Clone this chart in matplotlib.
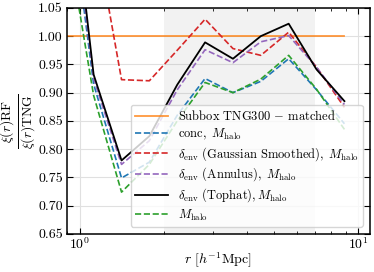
import numpy as np
import matplotlib
matplotlib.use("Agg")
import matplotlib.pyplot as plt

plt.rcParams.update({"font.family": "serif",
                     "font.serif": ["cmr10"],
                     "mathtext.fontset": "cm",
                     "axes.unicode_minus": False,
                     "axes.formatter.use_mathtext": True,
                     "font.size": 9})

# radial bins (log-spaced)
r_bins = [0.891, 1.122, 1.413, 1.778, 2.239, 2.818, 3.548, 4.467, 5.623, 7.079, 8.913]

ratio_matched = [1.0] * len(r_bins)
ratio_conc    = [1.30, 0.915, 0.749, 0.777, 0.860, 0.925, 0.900, 0.920, 0.960, 0.905, 0.845]
ratio_gauss   = [1.50, 1.200, 0.923, 0.921, 0.975, 1.030, 0.978, 0.966, 1.007, 0.945, 0.874]
ratio_annulus = [1.33, 0.925, 0.773, 0.815, 0.905, 0.976, 0.953, 0.990, 1.001, 0.945, 0.879]
ratio_tophat  = [1.36, 0.932, 0.780, 0.823, 0.914, 0.989, 0.960, 1.000, 1.022, 0.941, 0.885]
ratio_mhalo   = [1.19, 0.895, 0.724, 0.773, 0.850, 0.918, 0.900, 0.924, 0.966, 0.906, 0.835]

fig = plt.figure(figsize=(3.74, 2.72), dpi=100)
ax = fig.add_axes([0.179, 0.140, 0.810, 0.831])

ax.axvspan(2, 7, color="gray", alpha=0.1, lw=0)
ax.grid(True, which="major", color="#e0e0e0", lw=0.8)
ax.set_axisbelow(True)

ax.plot(r_bins, ratio_matched, color="tab:orange", alpha=0.8, lw=1.3,
        label=r"Subbox TNG300 $-$ matched")
ax.plot(r_bins, ratio_conc, "--", color="tab:blue", lw=1.2,
        label=r"conc, $\,M_{\rm halo}$")
ax.plot(r_bins, ratio_gauss, "--", color="tab:red", lw=1.2,
        label=r"$\delta_{\rm env}$ (Gaussian Smoothed), $\,M_{\rm halo}$")
ax.plot(r_bins, ratio_annulus, "--", color="tab:purple", lw=1.2,
        label=r"$\delta_{\rm env}$ (Annulus), $\,M_{\rm halo}$")
ax.plot(r_bins, ratio_tophat, "-", color="black", lw=1.3,
        label=r"$\delta_{\rm env}$ (Tophat)$,M_{\rm halo}$")
ax.plot(r_bins, ratio_mhalo, "--", color="tab:green", lw=1.2,
        label=r"$M_{\rm halo}$")

ax.set_xscale("log")
ax.set_xlim(0.9, 11)
ax.set_ylim(0.65, 1.05)
ax.set_yticks(np.arange(0.65, 1.051, 0.05))
ax.yaxis.set_major_formatter(matplotlib.ticker.FormatStrFormatter("%.2f"))
ax.tick_params(which="both", direction="in", top=True, right=True,
               labelsize=10, pad=3)
ax.tick_params(which="major", length=4)
ax.tick_params(which="minor", length=2)
ax.tick_params(axis="x", pad=2)
for s in ax.spines.values():
    s.set_linewidth(1.1)

ax.set_xlabel(r"$r\ [h^{-1}\mathrm{Mpc}]$", fontsize=10, labelpad=-1)
ax.set_ylabel(r"$\frac{\xi(r)\mathrm{RF}}{\xi(r)\mathrm{TNG}}$", fontsize=14,
              labelpad=0)

ax.legend(loc="lower right", bbox_to_anchor=(0.977, 0.031), borderaxespad=0,
          fontsize=9, framealpha=0.8, handlelength=2.6,
          borderpad=0.35, labelspacing=0.25)

fig.savefig("out.png", dpi=100)
